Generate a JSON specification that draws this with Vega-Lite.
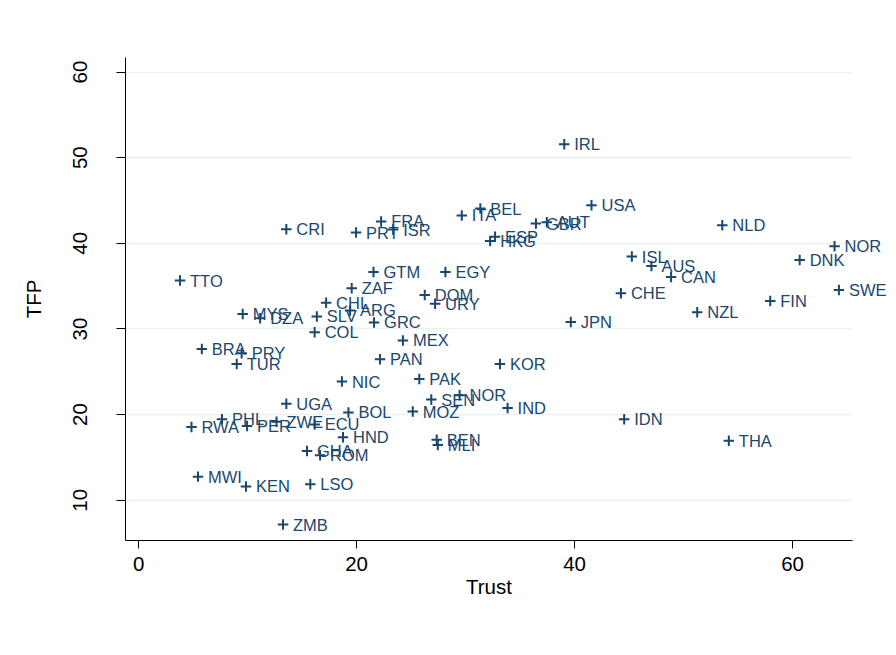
{
  "$schema": "https://vega.github.io/schema/vega-lite/v6.json",
  "width": 727,
  "height": 483,
  "autosize": {"type": "none"},
  "padding": {"left": 125, "top": 57, "right": 44, "bottom": 115},
  "background": "white",
  "config": {
    "view": {"stroke": null},
    "font": "Liberation Sans",
    "axis": {"labelFont": "Liberation Sans", "titleFont": "Liberation Sans", "labelColor": "black", "titleColor": "black", "domainColor": "black", "tickColor": "black", "titleFontWeight": "normal"}
  },
  "data": {
    "values": [
      {"c": "IRL", "trust": 39.1, "tfp": 51.5},
      {"c": "USA", "trust": 41.6, "tfp": 44.4},
      {"c": "NLD", "trust": 53.6, "tfp": 42.05},
      {"c": "NOR", "trust": 63.9, "tfp": 39.6},
      {"c": "DNK", "trust": 60.7, "tfp": 38.0},
      {"c": "SWE", "trust": 64.3, "tfp": 34.5},
      {"c": "FIN", "trust": 58.0, "tfp": 33.2},
      {"c": "NZL", "trust": 51.3, "tfp": 31.9},
      {"c": "JPN", "trust": 39.7, "tfp": 30.75},
      {"c": "ISL", "trust": 45.3, "tfp": 38.4},
      {"c": "AUS", "trust": 47.1, "tfp": 37.3},
      {"c": "CAN", "trust": 48.9, "tfp": 36.0},
      {"c": "CHE", "trust": 44.3, "tfp": 34.1},
      {"c": "IDN", "trust": 44.6, "tfp": 19.4},
      {"c": "THA", "trust": 54.2, "tfp": 16.9},
      {"c": "KOR", "trust": 33.2, "tfp": 25.85},
      {"c": "IND", "trust": 33.9, "tfp": 20.7},
      {"c": "NOR", "trust": 29.5, "tfp": 22.2},
      {"c": "SEN", "trust": 26.9, "tfp": 21.7},
      {"c": "MOZ", "trust": 25.2, "tfp": 20.3},
      {"c": "BEN", "trust": 27.4, "tfp": 17.0},
      {"c": "MLI", "trust": 27.5, "tfp": 16.4},
      {"c": "PAK", "trust": 25.8, "tfp": 24.1},
      {"c": "PAN", "trust": 22.2, "tfp": 26.4},
      {"c": "MEX", "trust": 24.3, "tfp": 28.6},
      {"c": "GRC", "trust": 21.65, "tfp": 30.7},
      {"c": "ARG", "trust": 19.45, "tfp": 32.1},
      {"c": "CHL", "trust": 17.25, "tfp": 33.0},
      {"c": "SLV", "trust": 16.4, "tfp": 31.4},
      {"c": "COL", "trust": 16.2, "tfp": 29.55},
      {"c": "ZAF", "trust": 19.6, "tfp": 34.7},
      {"c": "GTM", "trust": 21.6, "tfp": 36.6},
      {"c": "EGY", "trust": 28.2, "tfp": 36.6},
      {"c": "DOM", "trust": 26.3, "tfp": 33.9},
      {"c": "URY", "trust": 27.25, "tfp": 32.9},
      {"c": "CRI", "trust": 13.6, "tfp": 41.6},
      {"c": "PRT", "trust": 20.0, "tfp": 41.2},
      {"c": "FRA", "trust": 22.3, "tfp": 42.5},
      {"c": "ISR", "trust": 23.4, "tfp": 41.55},
      {"c": "ITA", "trust": 29.7, "tfp": 43.2},
      {"c": "BEL", "trust": 31.4, "tfp": 44.0},
      {"c": "GBR", "trust": 36.5, "tfp": 42.25},
      {"c": "AUT", "trust": 37.5, "tfp": 42.4},
      {"c": "ESP", "trust": 32.75, "tfp": 40.7},
      {"c": "HKG", "trust": 32.3, "tfp": 40.2},
      {"c": "TTO", "trust": 3.85, "tfp": 35.6},
      {"c": "MYS", "trust": 9.6, "tfp": 31.7},
      {"c": "DZA", "trust": 11.2, "tfp": 31.2},
      {"c": "BRA", "trust": 5.85, "tfp": 27.6},
      {"c": "PRY", "trust": 9.5, "tfp": 27.1},
      {"c": "TUR", "trust": 9.05, "tfp": 25.85},
      {"c": "NIC", "trust": 18.7, "tfp": 23.8},
      {"c": "UGA", "trust": 13.6, "tfp": 21.2},
      {"c": "BOL", "trust": 19.3, "tfp": 20.2},
      {"c": "PHL", "trust": 7.7, "tfp": 19.4},
      {"c": "RWA", "trust": 4.9, "tfp": 18.5},
      {"c": "PER", "trust": 10.0, "tfp": 18.6},
      {"c": "ZWE", "trust": 12.7, "tfp": 19.1},
      {"c": "ECU", "trust": 16.2, "tfp": 18.8},
      {"c": "HND", "trust": 18.8, "tfp": 17.3},
      {"c": "GHA", "trust": 15.5, "tfp": 15.7},
      {"c": "ROM", "trust": 16.7, "tfp": 15.2},
      {"c": "MWI", "trust": 5.5, "tfp": 12.7},
      {"c": "KEN", "trust": 9.9, "tfp": 11.55},
      {"c": "LSO", "trust": 15.8, "tfp": 11.8},
      {"c": "ZMB", "trust": 13.3, "tfp": 7.1}
    ]
  },
  "encoding": {
    "x": {
      "field": "trust", "type": "quantitative", "title": "Trust",
      "scale": {"domain": [-1.2, 65.5], "nice": false, "zero": false},
      "axis": {"values": [0, 20, 40, 60], "grid": false, "tickSize": 8, "labelPadding": 6, "labelFontSize": 20.5, "titleFontSize": 20.5, "titlePadding": 3, "domainWidth": 1, "tickWidth": 1, "labelFlush": false}
    },
    "y": {
      "field": "tfp", "type": "quantitative", "title": "TFP",
      "scale": {"domain": [5.3, 61.7], "nice": false, "zero": false},
      "axis": {"values": [10, 20, 30, 40, 50, 60], "grid": true, "gridColor": "#eaf2f3", "gridWidth": 1.5, "tickSize": 9, "labelAngle": -90, "labelPadding": 26, "labelFontSize": 20.5, "titleFontSize": 20.5, "titlePadding": 26, "domainWidth": 1, "tickWidth": 1, "labelFlush": false}
    }
  },
  "layer": [
    {
      "mark": {"type": "point", "shape": "M -1 0 L 1 0 M 0 -1 L 0 1", "filled": false, "size": 110, "strokeWidth": 2, "color": "#1a476f", "opacity": 1}
    },
    {
      "mark": {"type": "text", "align": "left", "baseline": "middle", "dx": 10, "dy": 1, "fontSize": 16.5, "font": "Liberation Sans", "color": "#1a476f"},
      "encoding": {"text": {"field": "c"}}
    }
  ]
}
